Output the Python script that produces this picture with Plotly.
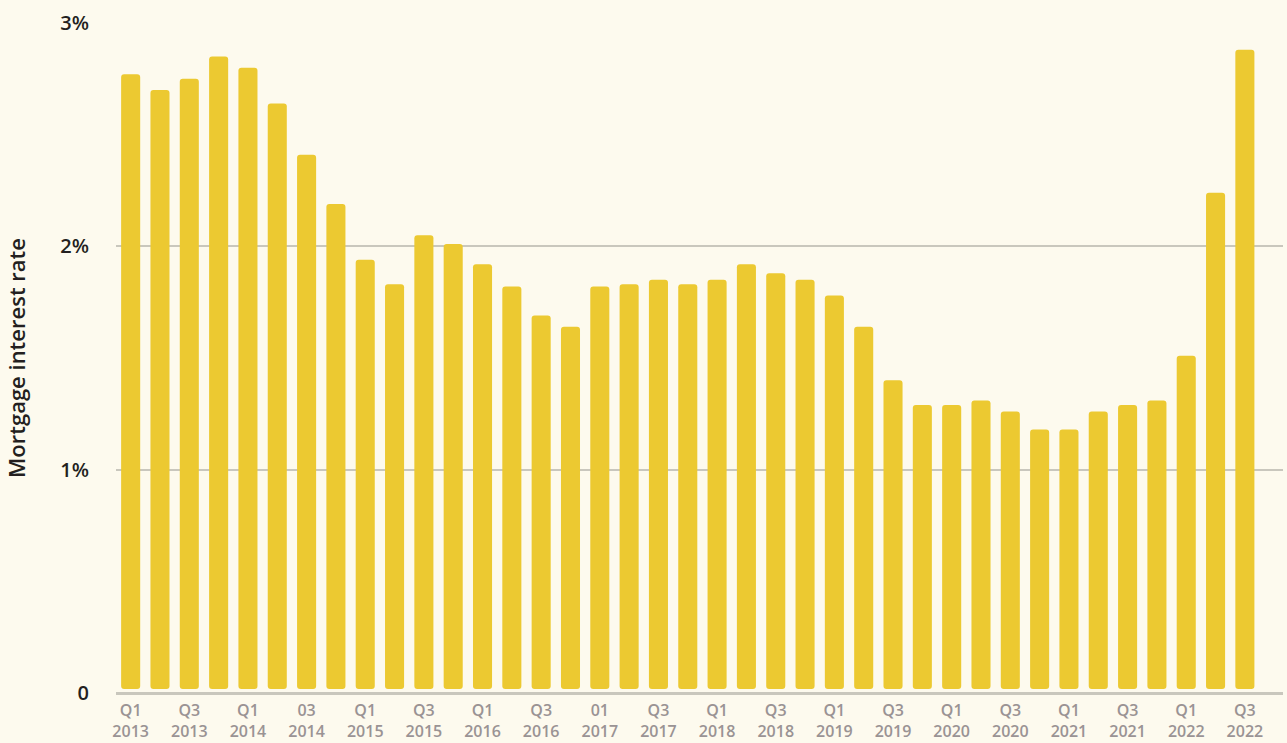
import plotly.graph_objects as go

quarters = [
    "Q1 2013", "Q2 2013", "Q3 2013", "Q4 2013",
    "Q1 2014", "Q2 2014", "Q3 2014", "Q4 2014",
    "Q1 2015", "Q2 2015", "Q3 2015", "Q4 2015",
    "Q1 2016", "Q2 2016", "Q3 2016", "Q4 2016",
    "Q1 2017", "Q2 2017", "Q3 2017", "Q4 2017",
    "Q1 2018", "Q2 2018", "Q3 2018", "Q4 2018",
    "Q1 2019", "Q2 2019", "Q3 2019", "Q4 2019",
    "Q1 2020", "Q2 2020", "Q3 2020", "Q4 2020",
    "Q1 2021", "Q2 2021", "Q3 2021", "Q4 2021",
    "Q1 2022", "Q2 2022", "Q3 2022",
]

rates = [
    2.77, 2.70, 2.75, 2.85,
    2.80, 2.64, 2.41, 2.19,
    1.94, 1.83, 2.05, 2.01,
    1.92, 1.82, 1.69, 1.64,
    1.82, 1.83, 1.85, 1.83,
    1.85, 1.92, 1.88, 1.85,
    1.78, 1.64, 1.40, 1.29,
    1.29, 1.31, 1.26, 1.18,
    1.18, 1.26, 1.29, 1.31,
    1.51, 2.24, 2.88,
]

tick_positions = list(range(0, 39, 2))
tick_labels = [
    "Q1<br>2013", "Q3<br>2013", "Q1<br>2014", "03<br>2014", "Q1<br>2015",
    "Q3<br>2015", "Q1<br>2016", "Q3<br>2016", "01<br>2017", "Q3<br>2017",
    "Q1<br>2018", "Q3<br>2018", "Q1<br>2019", "Q3<br>2019", "Q1<br>2020",
    "Q3<br>2020", "Q1<br>2021", "Q3<br>2021", "Q1<br>2022", "Q3<br>2022",
]

y_tickvals = [0, 1, 2, 3]
y_ticktext = ["0", "1%", "2%", "3%"]

BASE = 0.018  # small visual gap between bar bottoms and the baseline
BAR_COLOR = "#ecc931"
BG = "#fdfaee"
GRID = "#c9c7bd"
FONT = "Open Sans"

x_idx = list(range(len(quarters)))

fig = go.Figure(
    go.Bar(
        x=x_idx,
        y=[r - BASE for r in rates],
        base=BASE,
        marker=dict(color=BAR_COLOR, line=dict(width=0)),
        hovertext=quarters,
        width=0.65,
    )
)

fig.update_layout(
    width=1287,
    height=743,
    paper_bgcolor=BG,
    plot_bgcolor=BG,
    margin=dict(l=116, r=4, t=23, b=50),
    barcornerradius=3,
    showlegend=False,
    font=dict(family=FONT, color="#231f20"),
    xaxis=dict(
        range=[-0.5, 39.3],
        tickmode="array",
        tickvals=tick_positions,
        ticktext=tick_labels,
        tickfont=dict(size=16, color="#9a9394", family=FONT, weight=600),
        showgrid=False,
        zeroline=False,
        showline=False,
        ticks="",
        automargin=False,
        ticklabelstandoff=6,
    ),
    yaxis=dict(
        range=[0, 3],
        tickmode="array",
        tickvals=y_tickvals,
        ticktext=y_ticktext,
        tickfont=dict(size=20, color="#231f20", family=FONT, weight=600),
        showgrid=True,
        gridcolor=GRID,
        gridwidth=1.5,
        zeroline=True,
        zerolinecolor=GRID,
        zerolinewidth=3,
        showline=False,
        ticks="",
        ticklabelstandoff=26,
        automargin=False,
        title=dict(
            text="Mortgage interest rate",
            font=dict(size=22, color="#231f20", family=FONT, weight=600),
            standoff=28,
        ),
    ),
)

fig.write_html(
    "out.html",
    config={"displayModeBar": False},
    post_script=(
        "document.body.style.margin='0';"
        "document.body.style.overflow='hidden';"
        "document.body.style.background='#fdfaee';"
    ),
)
